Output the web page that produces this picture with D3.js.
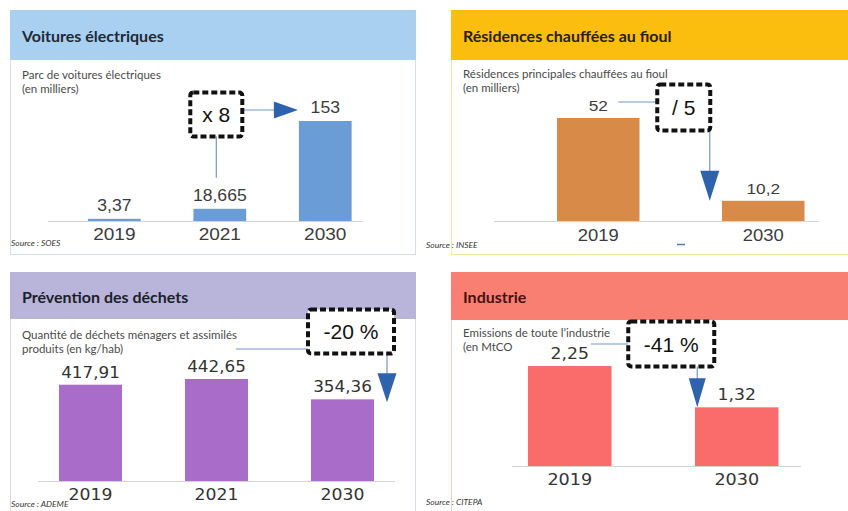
<!DOCTYPE html>
<html><head><meta charset="utf-8">
<script src="https://cdn.jsdelivr.net/npm/d3@7"></script>
<style>
html,body{margin:0;padding:0;background:#fff;}
svg{display:block;}
</style></head>
<body>
<svg id="chart" width="848" height="511"></svg>
<script>
// ---------- DATA ----------
const voituresYears = ["2019", "2021", "2030"];
const voituresValues = [3.37, 18.665, 153];
const voituresLabels = ["3,37", "18,665", "153"];

const fioulYears = ["2019", "2030"];
const fioulValues = [52, 10.2];
const fioulLabels = ["52", "10,2"];

const dechetsYears = ["2019", "2021", "2030"];
const dechetsValues = [417.91, 442.65, 354.36];
const dechetsLabels = ["417,91", "442,65", "354,36"];

const industrieYears = ["2019", "2030"];
const industrieValues = [2.25, 1.32];
const industrieLabels = ["2,25", "1,32"];

const panelTitles = ["Voitures électriques", "Résidences chauffées au fioul", "Prévention des déchets", "Industrie"];
const panelSubtitles = [
  ["Parc de voitures électriques", "(en milliers)"],
  ["Résidences principales chauffées au fioul", "(en milliers)"],
  ["Quantité de déchets ménagers et assimilés", "produits (en kg/hab)"],
  ["Emissions de toute l’industrie", "(en MtCO"]
];
const panelSources = ["Source : SOES", "Source : INSEE", "Source : ADEME", "Source : CITEPA"];
const annotationTexts = ["x 8", "/ 5", "-20 %", "-41 %"];

// ---------- DRAW ----------
const svg = d3.select("#chart");
const arrowColor = "#2e62ad";
const connColor = "#7098c8";
const titleFont = "Lato, 'Open Sans', sans-serif";
const numFont = "'Liberation Sans', Arial, sans-serif";

const panels = [
  {cats: voituresYears, vals: voituresValues, labs: voituresLabels,
   box: {x: 10, y: 10, w: 405, h: 244}, headerH: 50, headerColor: "#a9d0f1", border: "#d5dfe9",
   titleColor: "#1e2a33", barColor: "#6a9dd5",
   xr: [61.6, 378], padIn: 0.5, padOut: 0.25, base: 221, top: 121,
   lineX: [48, 363],
   valFont: numFont, valSize: 16, valSx: 1.1, valColor: "#3c3c3c", valOff: 8,
   yrFont: numFont, yrSize: 17, yrSx: 1.12, yrColor: "#3c3c3c", yrY: 240, yrWeight: "normal",
   titleY: 42, sub1Y: 79, sub2Y: 93, srcY: 246, srcX: 11},
  {cats: fioulYears, vals: fioulValues, labs: fioulLabels,
   box: {x: 451, y: 10, w: 420, h: 244}, headerH: 50, headerColor: "#fbbd0e", border: "#f6e9a6",
   titleColor: "#2a2010", barColor: "#d88b48",
   xr: [515.75, 845.75], padIn: 0.5, padOut: 0.25, base: 221, top: 118,
   lineX: [494, 819],
   valFont: numFont, valSize: 15, valSx: 1.15, valColor: "#3c3c3c", valOff: 7,
   yrFont: numFont, yrSize: 16, yrSx: 1.15, yrColor: "#3c3c3c", yrY: 241, yrWeight: "normal",
   titleY: 42, sub1Y: 78, sub2Y: 92, srcY: 248, srcX: 426},
  {cats: dechetsYears, vals: dechetsValues, labs: dechetsLabels,
   box: {x: 10, y: 272, w: 405, h: 260}, headerH: 47, headerColor: "#b9b4da", border: "#d9d7e8",
   titleColor: "#1e1e2a", barColor: "#a96cc8",
   xr: [27.5, 405.5], padIn: 0.5, padOut: 0.25, base: 481, top: 379,
   lineX: [38, 395],
   valFont: "'DejaVu Sans', sans-serif", valSize: 15, valSx: 1.12, valColor: "#333", valOff: 7,
   yrFont: "'DejaVu Sans', sans-serif", yrSize: 16, yrSx: 1.08, yrColor: "#333", yrY: 500, yrWeight: "normal",
   titleY: 303, sub1Y: 339, sub2Y: 353, srcY: 507, srcX: 11},
  {cats: industrieYears, vals: industrieValues, labs: industrieLabels,
   box: {x: 451, y: 272, w: 420, h: 260}, headerH: 48, headerColor: "#f97f72", border: "#f7cfc8",
   titleColor: "#4a1010", barColor: "#fa6b6b",
   xr: [486.25, 820.25], padIn: 0.5, padOut: 0.25, base: 466, top: 366,
   lineX: [512, 801],
   valFont: "'DejaVu Sans', sans-serif", valSize: 15, valSx: 1.15, valColor: "#333", valOff: 7,
   yrFont: "'DejaVu Sans', sans-serif", yrSize: 16, yrSx: 1.1, yrColor: "#333", yrY: 485, yrWeight: "normal",
   titleY: 303, sub1Y: 337, sub2Y: 351, srcY: 505, srcX: 426}
];

function sxText(g, x, y, txt, opt) {
  return g.append("text")
    .attr("transform", `translate(${x},${y}) scale(${opt.sx || 1},1)`)
    .attr("text-anchor", opt.anchor || "middle")
    .attr("font-family", opt.font)
    .attr("font-size", opt.size)
    .attr("font-weight", opt.weight || "normal")
    .attr("fill", opt.fill || "#333")
    .text(txt);
}

function dashedBox(g, cx, cy, w, h, txt) {
  g.append("rect")
    .attr("x", cx - w / 2).attr("y", cy - h / 2).attr("width", w).attr("height", h)
    .attr("rx", 3).attr("fill", "#fff")
    .attr("stroke", "#111").attr("stroke-width", 4).attr("stroke-dasharray", "6,3");
  g.append("text").attr("x", cx).attr("y", cy + 7.5)
    .attr("text-anchor", "middle").attr("font-family", numFont)
    .attr("font-size", 21).attr("fill", "#111").attr("font-weight", 300)
    .text(txt);
}
function triangleDown(g, x, tipY, w, h) {
  g.append("path").attr("d", `M${x - w / 2},${tipY - h}L${x + w / 2},${tipY - h}L${x},${tipY}Z`).attr("fill", arrowColor);
}
function triangleRight(g, tipX, y, w, h) {
  g.append("path").attr("d", `M${tipX - w},${y - h / 2}L${tipX - w},${y + h / 2}L${tipX},${y}Z`).attr("fill", arrowColor);
}

panels.forEach((p, i) => {
  const g = svg.append("g");
  // frame
  g.append("rect").attr("x", p.box.x + 0.5).attr("y", p.box.y + 0.5)
    .attr("width", p.box.w).attr("height", p.box.h)
    .attr("fill", "#fff").attr("stroke", p.border).attr("stroke-width", 1);
  g.append("rect").attr("x", p.box.x).attr("y", p.box.y)
    .attr("width", p.box.w + 1).attr("height", p.headerH).attr("fill", p.headerColor);
  g.append("text").attr("x", p.box.x + 12).attr("y", p.titleY)
    .attr("font-family", titleFont).attr("font-weight", "bold").attr("font-size", 16)
    .attr("fill", p.titleColor).text(panelTitles[i]);
  g.append("text").attr("x", p.box.x + 12).attr("y", p.sub1Y)
    .attr("font-family", titleFont).attr("font-size", 11.5).attr("fill", "#4a4a4a").text(panelSubtitles[i][0]);
  g.append("text").attr("x", p.box.x + 12).attr("y", p.sub2Y)
    .attr("font-family", titleFont).attr("font-size", 11.5).attr("fill", "#4a4a4a").text(panelSubtitles[i][1]);
  g.append("text").attr("x", p.srcX).attr("y", p.srcY)
    .attr("font-family", titleFont).attr("font-style", "italic").attr("font-size", 8.5)
    .attr("fill", "#333").text(panelSources[i]);

  const x = d3.scaleBand().domain(p.cats).range(p.xr).paddingInner(p.padIn).paddingOuter(p.padOut);
  const y = d3.scaleLinear().domain([0, d3.max(p.vals)]).range([p.base, p.top]);
  p.x = x; p.y = y;

  // baseline
  g.append("line").attr("x1", p.lineX[0]).attr("x2", p.lineX[1])
    .attr("y1", p.base + 0.5).attr("y2", p.base + 0.5).attr("stroke", "#d4d4d4").attr("stroke-width", 1);

  // bars
  g.selectAll("rect.bar").data(p.cats).join("rect").attr("class", "bar")
    .attr("x", d => x(d)).attr("width", x.bandwidth())
    .attr("y", (d, j) => y(p.vals[j])).attr("height", (d, j) => p.base - y(p.vals[j]))
    .attr("fill", p.barColor);

  // value labels
  p.cats.forEach((c, j) => {
    sxText(g, x(c) + x.bandwidth() / 2, y(p.vals[j]) - p.valOff, p.labs[j],
      {font: p.valFont, size: p.valSize, sx: p.valSx, fill: p.valColor});
    sxText(g, x(c) + x.bandwidth() / 2, p.yrY, c,
      {font: p.yrFont, size: p.yrSize, sx: p.yrSx, fill: p.yrColor, weight: p.yrWeight});
  });
});

// ---------- ANNOTATIONS ----------
{
  const p = panels[0], g = svg.append("g"), x = p.x, y = p.y, bw = x.bandwidth();
  const cx = x("2021") + bw / 2 - 3.5, cy = y(153) - 6.5;
  g.append("line").attr("x1", cx).attr("x2", cx).attr("y1", cy).attr("y2", y(18.665) - 31)
    .attr("stroke", connColor).attr("stroke-width", 1.2);
  g.append("line").attr("x1", cx).attr("x2", x("2030") - 20).attr("y1", cy - 4.5).attr("y2", cy - 4.5)
    .attr("stroke", connColor).attr("stroke-width", 1.2);
  triangleRight(g, x("2030") - 1, cy - 4.5, 24, 17);
  dashedBox(g, cx, cy, 52, 44, annotationTexts[0]);
}
{
  const p = panels[1], g = svg.append("g"), x = p.x, y = p.y, bw = x.bandwidth();
  const cx = (x("2019") + bw + x("2030")) / 2 + 3, cy = y(52) - 10.5;
  g.append("line").attr("x1", x("2019") + bw / 2 + 20).attr("x2", cx).attr("y1", cy - 5.5).attr("y2", cy - 5.5)
    .attr("stroke", connColor).attr("stroke-width", 1.2);
  g.append("line").attr("x1", cx + 26).attr("x2", cx + 26).attr("y1", cy).attr("y2", y(10.2) - 25)
    .attr("stroke", connColor).attr("stroke-width", 1.2);
  triangleDown(g, cx + 26, y(10.2), 19, 30);
  dashedBox(g, cx, cy, 53, 46, annotationTexts[1]);
  g.append("line").attr("x1", 677).attr("x2", 685).attr("y1", 244.5).attr("y2", 244.5)
    .attr("stroke", "#4f7ab8").attr("stroke-width", 1.5);
}
{
  const p = panels[2], g = svg.append("g"), x = p.x, y = p.y, bw = x.bandwidth();
  const cx = x("2030") + bw / 2 + 8.5, cy = y(442.65) - 47.5;
  g.append("line").attr("x1", x("2021") + bw - 12).attr("x2", cx).attr("y1", cy + 17.5).attr("y2", cy + 17.5)
    .attr("stroke", connColor).attr("stroke-width", 1.2);
  g.append("line").attr("x1", cx + 36).attr("x2", cx + 36).attr("y1", cy).attr("y2", y(354.36) - 20)
    .attr("stroke", connColor).attr("stroke-width", 1.2);
  triangleDown(g, cx + 36, y(354.36) + 3, 19, 29);
  dashedBox(g, cx, cy, 86, 44, annotationTexts[2]);
}
{
  const p = panels[3], g = svg.append("g"), x = p.x, y = p.y, bw = x.bandwidth();
  const cx = (x("2019") + bw + x("2030")) / 2 + 18, cy = y(2.25) - 22;
  g.append("line").attr("x1", x("2019") + bw / 2 + 21).attr("x2", cx).attr("y1", cy).attr("y2", cy)
    .attr("stroke", connColor).attr("stroke-width", 1.2);
  g.append("line").attr("x1", cx + 26).attr("x2", cx + 26).attr("y1", cy).attr("y2", y(1.32) - 20)
    .attr("stroke", connColor).attr("stroke-width", 1.2);
  triangleDown(g, cx + 26, y(1.32), 17, 29);
  dashedBox(g, cx, cy, 86, 45, annotationTexts[3]);
}
</script>
</body></html>
